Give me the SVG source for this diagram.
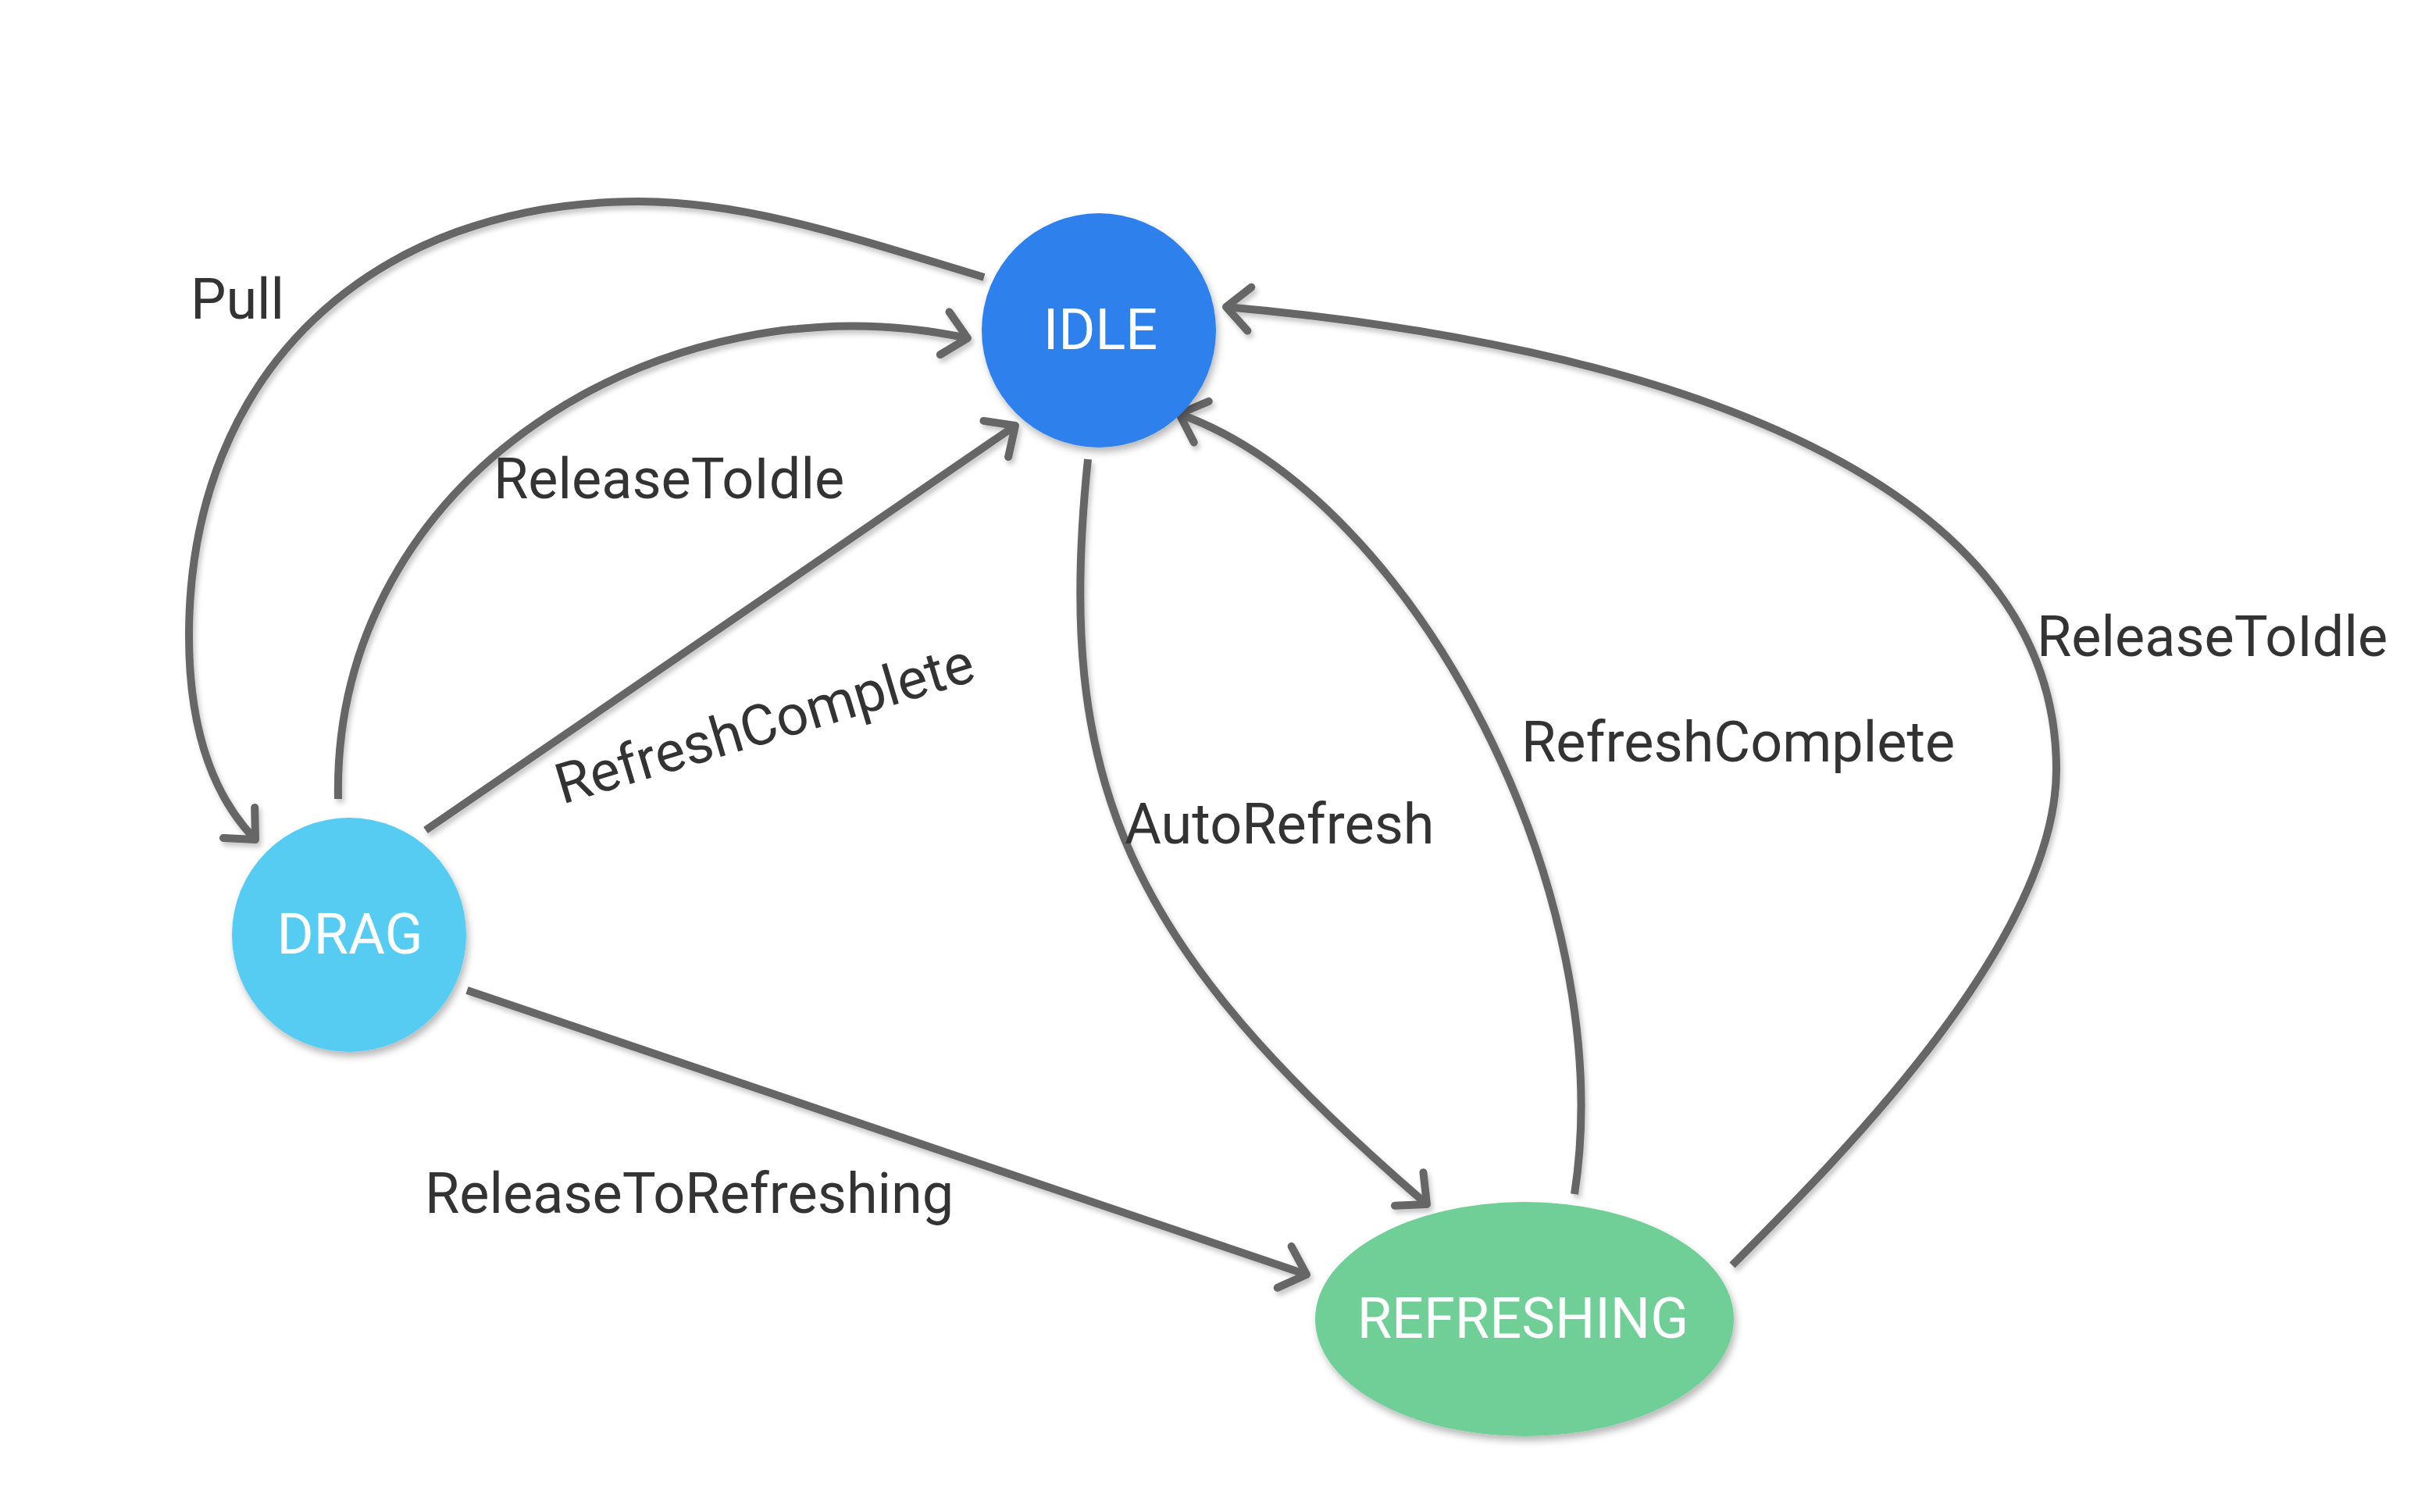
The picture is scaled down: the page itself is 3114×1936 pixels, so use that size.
<svg xmlns="http://www.w3.org/2000/svg" width="3114" height="1936" viewBox="0 0 3114 1936">
  <style>
    .edge { fill: none; stroke: #666666; stroke-width: 10; marker-end: url(#arrow); }
    .lbl { font-family: Roboto, "Liberation Sans", sans-serif; font-size: 72px; fill: #333333; }
    .nlbl { font-family: Roboto, "Liberation Sans", sans-serif; font-size: 72px; fill: #ffffff; text-anchor: middle; }
  </style>
  <defs>
    <filter id="shadow" x="-20%" y="-20%" width="140%" height="140%">
      <feDropShadow dx="3" dy="6" stdDeviation="5" flood-color="#000000" flood-opacity="0.28"/>
    </filter>
    <filter id="lshadow" x="-10%" y="-10%" width="120%" height="120%">
      <feDropShadow dx="3" dy="5" stdDeviation="3" flood-color="#000000" flood-opacity="0.22"/>
    </filter>
    <marker id="arrow" markerUnits="userSpaceOnUse" viewBox="-60 -60 120 120" markerWidth="120" markerHeight="120" refX="0" refY="0" orient="auto" overflow="visible">
      <path d="M-30,-28 L0,0 L-30,28" fill="none" stroke="#666666" stroke-width="10" stroke-linecap="round" stroke-linejoin="round"/>
    </marker>
  </defs>
  <rect width="3114" height="1936" fill="#ffffff"/>

  <g id="connectors" filter="url(#lshadow)">
    <path id="e-pull" class="edge" d="M1260,355 C1100,307 958,258 818,258 C478,258 242,474 242,814 C242,900 257,1003 327,1075"/>
    <path id="e-release-idle-left" class="edge" d="M433,1023 C425,610 850,350 1239,433"/>
    <path id="e-refresh-complete-left" class="edge" d="M545,1063 L1300,545"/>
    <path id="e-autorefresh" class="edge" d="M1393,588 C1350,1000 1440,1210 1827,1542"/>
    <path id="e-refresh-complete-right" class="edge" d="M2016,1529 C2075,1150 1815,640 1510,530"/>
    <path id="e-release-idle-right" class="edge" d="M2218,1620 C2368,1470 2633,1200 2633,985 C2633,600 2100,440 1570,393"/>
    <path id="e-release-refreshing" class="edge" d="M598,1268 L1673,1632"/>
  </g>

  <g id="labels">
    <text class="lbl" x="244" y="408">Pull</text>
    <text class="lbl" x="632" y="638">ReleaseToIdle</text>
    <text class="lbl" transform="translate(720,1030) rotate(-16.7)" x="0" y="0">RefreshComplete</text>
    <text class="lbl" x="1440" y="1080">AutoRefresh</text>
    <text class="lbl" x="1948" y="975">RefreshComplete</text>
    <text class="lbl" x="2608" y="840">ReleaseToIdle</text>
    <text class="lbl" x="544" y="1553">ReleaseToRefreshing</text>
  </g>

  <g id="node-idle">
    <circle cx="1407" cy="423" r="150" fill="#2F80ED" filter="url(#shadow)"/>
    <text class="nlbl" x="1409" y="447">IDLE</text>
  </g>
  <g id="node-drag">
    <circle cx="447" cy="1197" r="150" fill="#56CCF2" filter="url(#shadow)"/>
    <text class="nlbl" x="448" y="1221">DRAG</text>
  </g>
  <g id="node-refreshing">
    <ellipse cx="1952" cy="1689" rx="268" ry="150" fill="#6FCF97" filter="url(#shadow)"/>
    <text class="nlbl" x="1950" y="1713">REFRESHING</text>
  </g>
</svg>
